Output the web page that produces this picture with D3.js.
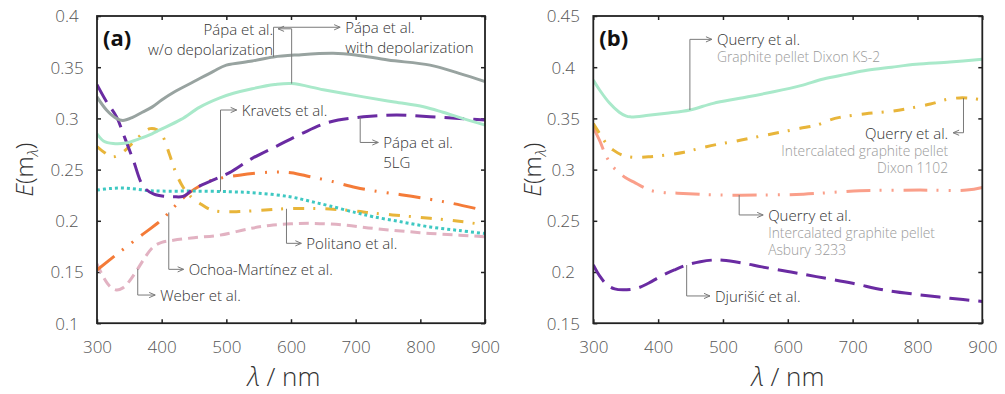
<!DOCTYPE html>
<html>
<head>
<meta charset="utf-8">
<script src="https://cdn.jsdelivr.net/npm/d3@7"></script>
<style>
  body { margin: 0; background: #fff; }
  svg { display: block; }
  text { font-family: "Open Sans", "Noto Sans", sans-serif; font-weight: 300; }
</style>
</head>
<body>
<svg id="chart" width="1005" height="394"></svg>
<script>
// ---- Data ----------------------------------------------------------------
const wavelengthTicks = [300, 400, 500, 600, 700, 800, 900];
const eTicksA = [0.1, 0.15, 0.2, 0.25, 0.3, 0.35, 0.4];
const eTicksB = [0.15, 0.2, 0.25, 0.3, 0.35, 0.4, 0.45];

// Panel (a): [wavelength nm, E(m)]
const papaWithDepol = [[300,0.321],[315,0.308],[330,0.300],[340,0.298],[355,0.301],[370,0.306],[385,0.311],[400,0.318],[420,0.326],[450,0.336],[480,0.346],[500,0.352],[540,0.356],[573,0.360],[610,0.362],[665,0.3636],[700,0.362],[750,0.357],[815,0.352],[860,0.344],[900,0.336]];
const papaWithoutDepol = [[300,0.285],[310,0.278],[325,0.2755],[345,0.276],[365,0.280],[385,0.285],[397,0.2887],[430,0.299],[459,0.311],[490,0.320],[511,0.3245],[540,0.329],[575,0.333],[601,0.334],[650,0.328],[712,0.321],[760,0.316],[805,0.3114],[835,0.306],[865,0.300],[900,0.2935]];
const papa5LG = [[300,0.333],[315,0.316],[330,0.3017],[343,0.281],[356,0.2594],[372,0.2333],[388,0.226],[405,0.2238],[418,0.2235],[433,0.2238],[449,0.2307],[480,0.2399],[505,0.247],[540,0.261],[578,0.273],[616,0.285],[660,0.2965],[712,0.3015],[763,0.3033],[815,0.3017],[860,0.300],[900,0.2985]];
const politano = [[300,0.2725],[312,0.2665],[325,0.2625],[340,0.267],[355,0.276],[370,0.285],[382,0.290],[392,0.289],[402,0.282],[412,0.265],[422,0.247],[433,0.233],[446,0.223],[459,0.217],[475,0.211],[490,0.209],[520,0.209],[560,0.2105],[600,0.212],[660,0.2115],[700,0.2095],[727,0.2075],[770,0.205],[815,0.2025],[860,0.1995],[900,0.196]];
const kravets = [[300,0.230],[320,0.2315],[340,0.232],[360,0.231],[380,0.2295],[400,0.229],[450,0.229],[506,0.2284],[550,0.227],[598,0.2235],[630,0.219],[660,0.2145],[700,0.208],[727,0.204],[770,0.199],[815,0.194],[860,0.1905],[900,0.1875]];
const ochoaMartinez = [[300,0.152],[330,0.167],[366,0.1845],[400,0.201],[420,0.214],[440,0.226],[460,0.2345],[480,0.240],[520,0.2445],[567,0.2475],[600,0.247],[630,0.243],[660,0.239],[700,0.2325],[726,0.2295],[770,0.2255],[815,0.221],[850,0.217],[900,0.210]];
const weber = [[300,0.158],[310,0.145],[320,0.136],[330,0.1325],[340,0.1345],[350,0.141],[361,0.151],[375,0.165],[387,0.1745],[400,0.179],[418,0.181],[450,0.1835],[490,0.186],[537,0.1925],[567,0.1955],[600,0.197],[634,0.1975],[680,0.196],[727,0.1926],[770,0.190],[815,0.1877],[860,0.186],[900,0.1844]];

// Panel (b)
const querryKS2 = [[300,0.3875],[310,0.3775],[325,0.365],[340,0.356],[350,0.3525],[357,0.3515],[385,0.353],[413,0.355],[449,0.3582],[485,0.3647],[526,0.3696],[578,0.376],[620,0.382],[655,0.3885],[690,0.393],[722,0.397],[760,0.400],[798,0.4028],[850,0.405],[900,0.4077]];
const querry1102 = [[300,0.345],[312,0.333],[322,0.324],[331,0.319],[345,0.314],[362,0.312],[385,0.3125],[413,0.3143],[440,0.317],[464,0.3208],[490,0.3245],[516,0.3273],[541,0.3305],[567,0.3338],[593,0.337],[619,0.3403],[645,0.3436],[665,0.3485],[680,0.351],[720,0.3545],[760,0.357],[788,0.3599],[820,0.364],[845,0.3685],[865,0.370],[885,0.3695],[900,0.368]];
const querry3233 = [[300,0.341],[310,0.328],[320,0.313],[330,0.303],[341,0.2965],[350,0.292],[362,0.288],[387,0.280],[410,0.2775],[430,0.277],[495,0.2752],[570,0.2752],[624,0.276],[670,0.2778],[711,0.2794],[760,0.2798],[804,0.280],[876,0.280],[900,0.2825]];
const djurisic = [[300,0.207],[310,0.196],[321,0.1875],[333,0.1835],[346,0.1826],[367,0.1841],[385,0.189],[403,0.1955],[425,0.202],[444,0.2068],[465,0.210],[485,0.2117],[500,0.2115],[532,0.2085],[560,0.205],[600,0.2005],[644,0.1955],[700,0.189],[747,0.1826],[800,0.178],[850,0.1744],[900,0.1712]];

// ---- Styles --------------------------------------------------------------
const styles = {
  gray:   { color: "#98a3a0", dash: null },
  mint:   { color: "#a9e9ca", dash: null },
  purple: { color: "#6a2ba2", dash: "20,9" },
  yellow: { color: "#e8b53a", dash: "11,9,2,10" },
  cyan:   { color: "#3ec8c2", dash: "3,3" },
  orange: { color: "#f47b38", dash: "22,10,2,10,2,10" },
  pink:   { color: "#e2b2c2", dash: "10,6" },
  salmon: { color: "#fa9f8a", dash: "24,9,2,10,2,10" }
};

const panels = [
  {
    label: "(a)", left: 97, top: 16, width: 388, height: 307.2,
    yDomain: [0.1, 0.4], yTicks: eTicksA, yTitleX: 25, xTitleX: 284,
    series: [
      { data: weber, style: styles.pink },
      { data: ochoaMartinez, style: styles.orange },
      { data: politano, style: styles.yellow },
      { data: kravets, style: styles.cyan },
      { data: papa5LG, style: styles.purple },
      { data: papaWithoutDepol, style: styles.mint },
      { data: papaWithDepol, style: styles.gray }
    ],
    notes: [
      { data: papaWithoutDepol, at: 601, elbow: 0.3875, tip: 580, dir: -1, lines: ["Pápa et al.", "w/o depolarization"] },
      { data: papaWithDepol, at: 573, elbow: 0.3890, tip: 676, dir: 1, lines: ["Pápa et al.", "with depolarization"] },
      { data: kravets, at: 491, elbow: 0.3082, tip: 516, dir: 1, lines: ["Kravets et al."] },
      { data: papa5LG, at: 707, elbow: 0.2765, tip: 735, dir: 1, lines: ["Pápa et al.", "5LG"] },
      { data: politano, at: 593, elbow: 0.1780, tip: 616, dir: 1, lines: ["Politano et al."] },
      { data: ochoaMartinez, at: 411, elbow: 0.1526, tip: 434, dir: 1, lines: ["Ochoa-Martínez et al."] },
      { data: weber, at: 363, elbow: 0.1275, tip: 390, dir: 1, lines: ["Weber et al."] }
    ]
  },
  {
    label: "(b)", left: 593.3, top: 16, width: 389, height: 307.2,
    yDomain: [0.15, 0.45], yTicks: eTicksB, yTitleX: 533, xTitleX: 788,
    series: [
      { data: djurisic, style: styles.purple },
      { data: querry3233, style: styles.salmon },
      { data: querry1102, style: styles.yellow },
      { data: querryKS2, style: styles.mint }
    ],
    notes: [
      { data: querryKS2, at: 449, elbow: 0.4272, tip: 483, dir: 1, lines: ["Querry et al.", "Graphite pellet Dixon KS-2"] },
      { data: querry1102, at: 871, elbow: 0.3360, tip: 855, dir: -1, lines: ["Querry et al.", "Intercalated graphite pellet", "Dixon 1102"] },
      { data: querry3233, at: 525, elbow: 0.2557, tip: 562, dir: 1, lines: ["Querry et al.", "Intercalated graphite pellet", "Asbury 3233"] },
      { data: djurisic, at: 444, elbow: 0.1766, tip: 480, dir: 1, lines: ["Djurišić et al."] }
    ]
  }
];

// ---- Drawing -------------------------------------------------------------
const svg = d3.select("#chart");

// linear interpolation of a series at a given wavelength
function valueAt(data, wl) {
  for (let i = 1; i < data.length; i++) {
    if (wl <= data[i][0]) {
      const [x0, y0] = data[i - 1], [x1, y1] = data[i];
      return y0 + (y1 - y0) * (wl - x0) / (x1 - x0);
    }
  }
  return data[data.length - 1][1];
}

const fmtE = d => String(+d.toFixed(2));

panels.forEach((p, pi) => {
  const x = d3.scaleLinear().domain([300, 900]).range([p.left, p.left + p.width]);
  const y = d3.scaleLinear().domain(p.yDomain).range([p.top + p.height, p.top]);
  const g = svg.append("g");

  const clipId = "clip" + pi;
  svg.append("clipPath").attr("id", clipId)
    .append("rect").attr("x", p.left).attr("y", p.top).attr("width", p.width).attr("height", p.height);

  // axes with inward ticks
  const tickLen = 4;
  const bottom = g.append("g").attr("transform", `translate(0,${p.top + p.height})`)
    .call(d3.axisBottom(x).tickValues(wavelengthTicks).tickSize(-tickLen).tickPadding(10).tickFormat(d3.format("d")));
  const top = g.append("g").attr("transform", `translate(0,${p.top})`)
    .call(d3.axisTop(x).tickValues(wavelengthTicks).tickSize(-tickLen).tickFormat(""));
  const left = g.append("g").attr("transform", `translate(${p.left},0)`)
    .call(d3.axisLeft(y).tickValues(p.yTicks).tickSize(-tickLen).tickFormat(fmtE));
  const right = g.append("g").attr("transform", `translate(${p.left + p.width},0)`)
    .call(d3.axisRight(y).tickValues(p.yTicks).tickSize(-tickLen).tickFormat(""));

  [bottom, top, left, right].forEach(a => {
    a.select(".domain").remove();
    a.selectAll(".tick line").attr("stroke", "#222").attr("stroke-width", 1.5);
  });
  bottom.selectAll(".tick text").attr("font-size", 17).attr("fill", "#555")
    .attr("font-family", '"Open Sans", sans-serif')
    .attr("y", 18).attr("dy", "0.71em");
  left.selectAll(".tick text").attr("font-size", 17).attr("fill", "#555")
    .attr("font-family", '"Open Sans", sans-serif')
    .attr("text-anchor", "middle").attr("x", -30).attr("dy", "0.35em");

  // curves
  const line = d3.line().x(d => x(d[0])).y(d => y(d[1])).curve(d3.curveCatmullRom.alpha(0.5));
  const curves = g.append("g").attr("clip-path", `url(#${clipId})`);
  p.series.forEach(s => {
    curves.append("path").datum(s.data)
      .attr("d", line)
      .attr("fill", "none")
      .attr("stroke", s.style.color)
      .attr("stroke-width", 3)
      .attr("stroke-dasharray", s.style.dash)
      .attr("stroke-linecap", "butt")
      .attr("stroke-linejoin", "round");
  });

  // frame
  g.append("rect").attr("x", p.left).attr("y", p.top).attr("width", p.width).attr("height", p.height)
    .attr("fill", "none").attr("stroke", "#222").attr("stroke-width", 1.8);

  // annotations with elbow leaders
  const notes = g.append("g");
  p.notes.forEach(n => {
    const sx = x(n.at), sy = y(valueAt(n.data, n.at));
    const ey = y(n.elbow), tx = x(n.tip);
    notes.append("path")
      .attr("d", `M${sx},${sy}V${ey}H${tx}`)
      .attr("fill", "none").attr("stroke", "#7a7a7a").attr("stroke-width", 1);
    notes.append("path")
      .attr("d", `M${tx - n.dir * 6},${ey - 2.6}L${tx},${ey}L${tx - n.dir * 6},${ey + 2.6}`)
      .attr("fill", "none").attr("stroke", "#7a7a7a").attr("stroke-width", 1);
    const isQuerry = n.lines[0].startsWith("Querry");
    n.lines.forEach((ln, i) => {
      const secondary = isQuerry && i > 0;
      let dy = 0;
      for (let k = 1; k <= i; k++) dy += (isQuerry ? 17 : 20);
      notes.append("text")
        .attr("x", tx + n.dir * 5)
        .attr("y", ey + 6 + dy)
        .attr("text-anchor", n.dir > 0 ? "start" : "end")
        .attr("font-size", secondary ? 13.8 : 15)
        .attr("fill", secondary ? "#9a9a9a" : "#333")
        .text(ln);
    });
  });

  // panel label
  g.append("text").attr("x", p.left + 6).attr("y", 46)
    .attr("font-size", 22).style("font-weight", "700").attr("fill", "#111")
    .text(p.label);

  // x-axis title
  const xt = g.append("text").attr("x", p.xTitleX).attr("y", 386)
    .attr("text-anchor", "middle").attr("font-size", 26).attr("fill", "#333");
  xt.append("tspan").attr("font-style", "italic").text("λ");
  xt.append("tspan").text(" / nm");

  // y-axis title
  const cy = p.top + p.height / 2;
  const yt = g.append("text")
    .attr("transform", `translate(${p.yTitleX},${cy}) rotate(-90)`)
    .attr("text-anchor", "middle").attr("dy", "0.35em").attr("font-size", 24).attr("fill", "#333");
  yt.append("tspan").attr("font-style", "italic").text("E");
  yt.append("tspan").text("(m");
  yt.append("tspan").attr("font-style", "italic").attr("font-size", 15).attr("dy", 5).text("λ");
  yt.append("tspan").attr("dy", -5).text(")");
});
</script>
</body>
</html>
